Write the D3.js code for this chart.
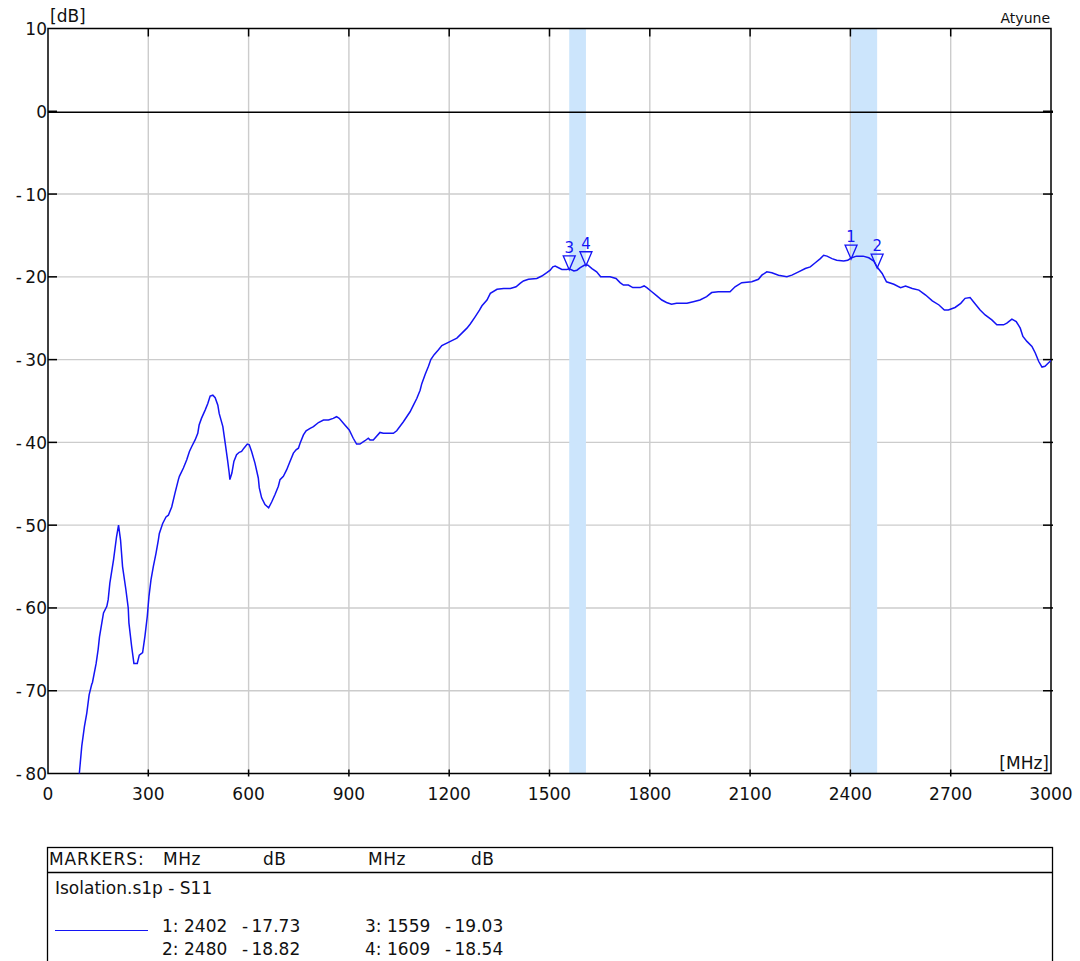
<!DOCTYPE html>
<html><head><meta charset="utf-8">
<script src="https://cdn.jsdelivr.net/npm/d3@7"></script>
<style>html,body{margin:0;padding:0;background:#fff;}svg{display:block;font-family:"DejaVu Sans",Verdana,sans-serif;}</style>
</head><body>
<svg id="chart" width="1080" height="961"></svg>
<script>
const freqMHz = [93.7,101,109,116,123,131,133,144,150,154,161,166,176,180,185,196,205,211,217,223,233,240,242,250,257,267,273,283,290,297,302,308,315,323,330,333,343,353,360,370,380,390,393,405,415,423,430,440,448,452,459,470,478,485,493,500,508,512,523,530,537,542,544,550,556,564,572,579,586,596,602,609,619,629,632,639,649,660,669,679,689,694,704,714,722,734,742,749,754,764,772,784,794,809,824,839,853,863,871,888,901,913,923,933,948,958,963,973,993,1003,1033,1043,1063,1083,1093,1103,1113,1118,1128,1138,1145,1155,1168,1178,1193,1208,1223,1238,1253,1263,1278,1291,1298,1313,1323,1343,1363,1383,1400,1412,1422,1437,1462,1477,1492,1502,1510,1517,1527,1537,1552,1559,1573,1582,1592,1604,1609,1615,1627,1641,1653,1681,1699,1711,1721,1736,1749,1771,1783,1791,1806,1821,1836,1850,1865,1880,1911,1930,1950,1970,1985,2005,2040,2055,2075,2105,2125,2135,2150,2165,2185,2210,2225,2245,2265,2280,2295,2310,2320,2330,2345,2359,2380,2392,2402,2418,2438,2455,2470,2480,2495,2508,2530,2550,2565,2585,2605,2625,2645,2665,2681,2693,2713,2730,2743,2758,2768,2788,2803,2823,2838,2858,2868,2883,2896,2908,2916,2928,2943,2953,2963,2973,2982,2992,3000];
const s11dB = [-80,-76.7,-74.3,-72.7,-70.5,-69.2,-69,-66.7,-65,-63.5,-61.8,-60.6,-59.8,-59,-57,-54.2,-51.4,-50.0,-51.8,-55,-57.8,-60,-61.8,-64.6,-66.7,-66.7,-65.7,-65.4,-63.4,-61,-58.6,-56.6,-55,-53.4,-51.8,-51,-49.8,-49,-48.8,-47.8,-46.1,-44.5,-44.1,-43.1,-42.1,-41.1,-40.5,-39.7,-38.9,-37.9,-37.1,-36.1,-35.3,-34.4,-34.3,-34.6,-35.5,-36.5,-38.1,-40.1,-42.1,-43.7,-44.5,-43.7,-42.3,-41.5,-41.2,-41.1,-40.7,-40.2,-40.3,-41.1,-42.5,-44.3,-45.5,-46.7,-47.5,-47.9,-47.2,-46.3,-45.3,-44.5,-44.1,-43.3,-42.5,-41.3,-40.9,-40.7,-40.1,-39.1,-38.6,-38.3,-38.1,-37.6,-37.3,-37.3,-37.1,-36.9,-37.1,-37.9,-38.5,-39.5,-40.2,-40.2,-39.8,-39.5,-39.7,-39.7,-38.8,-38.9,-38.9,-38.6,-37.5,-36.3,-35.5,-34.7,-33.7,-32.9,-31.8,-30.8,-30,-29.4,-28.8,-28.3,-28,-27.7,-27.4,-26.8,-26.2,-25.7,-24.8,-24,-23.5,-22.8,-22,-21.5,-21.4,-21.4,-21.2,-20.8,-20.5,-20.3,-20.2,-19.9,-19.5,-19.2,-18.8,-18.7,-18.9,-19.1,-19.1,-19.03,-19.3,-19.2,-18.9,-18.6,-18.54,-18.6,-19,-19.4,-20.0,-20,-20.2,-20.7,-21,-21,-21.3,-21.3,-21.1,-21.3,-21.8,-22.3,-22.8,-23.1,-23.3,-23.2,-23.2,-23,-22.8,-22.4,-21.9,-21.8,-21.8,-21.2,-20.7,-20.6,-20.3,-19.8,-19.4,-19.5,-19.8,-20,-19.8,-19.4,-19.0,-18.8,-18.3,-17.8,-17.4,-17.5,-17.8,-18.0,-18.1,-18.0,-17.73,-17.5,-17.5,-17.7,-18.1,-18.82,-19.6,-20.6,-20.9,-21.3,-21.1,-21.4,-21.6,-22.2,-22.9,-23.4,-24.0,-24.0,-23.7,-23.2,-22.6,-22.5,-23.0,-24,-24.6,-25.2,-25.8,-25.8,-25.6,-25.1,-25.4,-26.2,-27.2,-27.8,-28.4,-29.2,-30.2,-30.9,-30.8,-30.4,-30.1];
const xTicks = [0,300,600,900,1200,1500,1800,2100,2400,2700,3000];
const yTicks = [10,0,-10,-20,-30,-40,-50,-60,-70,-80];
const bandsMHz = [[1559,1609],[2402,2480]];
const markerIds = [1,2,3,4];
const markerFreq = [2402,2480,1559,1609];
const markerDb = [-17.73,-18.82,-19.03,-18.54];
const headerLabels = ["MARKERS:","MHz","dB","MHz","dB"];
const traceName = "Isolation.s1p - S11";

const svg = d3.select("#chart");
const L=48, R=1051, T=28.5, B=773.5;
const x = d3.scaleLinear().domain([0,3000]).range([L,R]);
const y = d3.scaleLinear().domain([-80,10]).range([B,T]);
const blue = "#1414f5";

const g = svg.append("g");
g.selectAll(".vg").data(xTicks.slice(1,-1)).join("line")
  .attr("x1",d=>x(d)).attr("x2",d=>x(d)).attr("y1",T).attr("y2",B)
  .attr("stroke","#cccccc").attr("stroke-width",1.4);
g.selectAll(".hg").data(yTicks.filter(d=>d!==10&&d!==-80&&d!==0)).join("line")
  .attr("x1",L).attr("x2",R).attr("y1",d=>y(d)).attr("y2",d=>y(d))
  .attr("stroke","#cccccc").attr("stroke-width",1.4);

g.selectAll(".band").data(bandsMHz).join("rect")
  .attr("x",d=>x(d[0])).attr("width",d=>x(d[1])-x(d[0]))
  .attr("y",T).attr("height",B-T).attr("fill","#cce5fc");

g.append("line").attr("x1",L).attr("x2",R+2).attr("y1",y(0)+1).attr("y2",y(0)+1)
  .attr("stroke","#000").attr("stroke-width",1.5);

g.append("rect").attr("x",L).attr("y",T).attr("width",R-L).attr("height",B-T)
  .attr("fill","none").attr("stroke","#000").attr("stroke-width",1.5);

g.selectAll(".tt").data(xTicks.slice(1,-1)).join("line")
  .attr("x1",d=>x(d)).attr("x2",d=>x(d)).attr("y1",T).attr("y2",T+8)
  .attr("stroke","#000").attr("stroke-width",1.5);
g.selectAll(".bt").data(xTicks.slice(1,-1)).join("line")
  .attr("x1",d=>x(d)).attr("x2",d=>x(d)).attr("y1",B-4).attr("y2",B+3)
  .attr("stroke","#000").attr("stroke-width",1.5);
g.selectAll(".lt").data(yTicks.slice(1,-1)).join("line")
  .attr("x1",L).attr("x2",L+9).attr("y1",d=>y(d)).attr("y2",d=>y(d))
  .attr("stroke","#000").attr("stroke-width",1.5);
g.selectAll(".rt").data(yTicks.slice(1,-1)).join("line")
  .attr("x1",R-8).attr("x2",R+2).attr("y1",d=>y(d)).attr("y2",d=>y(d))
  .attr("stroke","#000").attr("stroke-width",1.5);

g.selectAll(".xl").data(xTicks).join("text")
  .attr("x",d=>x(d)).attr("y",B+26).attr("text-anchor","middle")
  .attr("font-size",17).attr("fill","#111").text(d=>d);
g.selectAll(".yl").data(yTicks).join("text")
  .attr("x",L-1).attr("y",d=>y(d)+6.5).attr("text-anchor","end")
  .attr("font-size",17).attr("fill","#111").text(d=>d<0?"-\u2009"+(-d):d);
svg.append("text").attr("x",L+2).attr("y",22).attr("font-size",17).attr("fill","#111").text("[dB]");
svg.append("text").attr("x",R-1).attr("y",23).attr("text-anchor","end").attr("font-size",14).attr("fill","#111").text("Atyune");
svg.append("text").attr("x",R-2).attr("y",B-5).attr("text-anchor","end").attr("font-size",17).attr("fill","#111").text("[MHz]");

svg.append("clipPath").attr("id","clip").append("rect").attr("x",L).attr("y",T).attr("width",R-L).attr("height",B-T+1);
const pts = freqMHz.map((f,i)=>[f,s11dB[i]]);
svg.append("path").datum(pts).attr("clip-path","url(#clip)")
  .attr("d",d3.line().x(d=>x(d[0])).y(d=>y(d[1])))
  .attr("fill","none").attr("stroke",blue).attr("stroke-width",1.5);

const mk = svg.selectAll(".mk").data(markerIds.map((id,i)=>({id,f:markerFreq[i],v:markerDb[i]}))).join("g")
  .attr("transform",d=>`translate(${x(d.f)},${y(d.v)+1})`);
mk.append("path").attr("d","M0,0 L-6,-14 L6,-14 Z").attr("fill","none").attr("stroke",blue).attr("stroke-width",1.3);
mk.append("text").attr("x",0).attr("y",-17).attr("text-anchor","middle").attr("font-size",15).attr("fill",blue).text(d=>d.id);

const lg = svg.append("g");
lg.append("rect").attr("x",47.5).attr("y",847.5).attr("width",1005).attr("height",140)
  .attr("fill","none").attr("stroke","#000").attr("stroke-width",1.3);
lg.append("line").attr("x1",47.5).attr("x2",1052.5).attr("y1",872.5).attr("y2",872.5).attr("stroke","#000").attr("stroke-width",1.3);
const hx = [49,163,263,368,471];
lg.selectAll(".hd").data(headerLabels).join("text")
  .attr("x",(d,i)=>hx[i]).attr("y",865).attr("font-size",17).attr("letter-spacing",(d,i)=>i===0?0.9:0.5).attr("fill","#111").text(d=>d);
lg.append("text").attr("x",55).attr("y",894).attr("font-size",17).attr("fill","#111").text(traceName);
lg.append("line").attr("x1",55).attr("x2",148).attr("y1",930.5).attr("y2",930.5).attr("stroke",blue).attr("stroke-width",1.2);
const colX0 = [162,365];
const rows = markerIds.map((id,i)=>({id,f:markerFreq[i],v:markerDb[i],col:i<2?0:1,row:i%2}));
const rg = lg.selectAll(".mr").data(rows).join("g")
  .attr("transform",d=>`translate(${colX0[d.col]},${932+d.row*23})`);
rg.append("text").attr("font-size",17).attr("fill","#111").text(d=>d.id+":");
rg.append("text").attr("x",22).attr("font-size",17).attr("fill","#111").text(d=>d.f);
rg.append("text").attr("x",80).attr("font-size",17).attr("fill","#111").text(d=>"-\u2009"+(-d.v).toFixed(2));
</script>
</body></html>
